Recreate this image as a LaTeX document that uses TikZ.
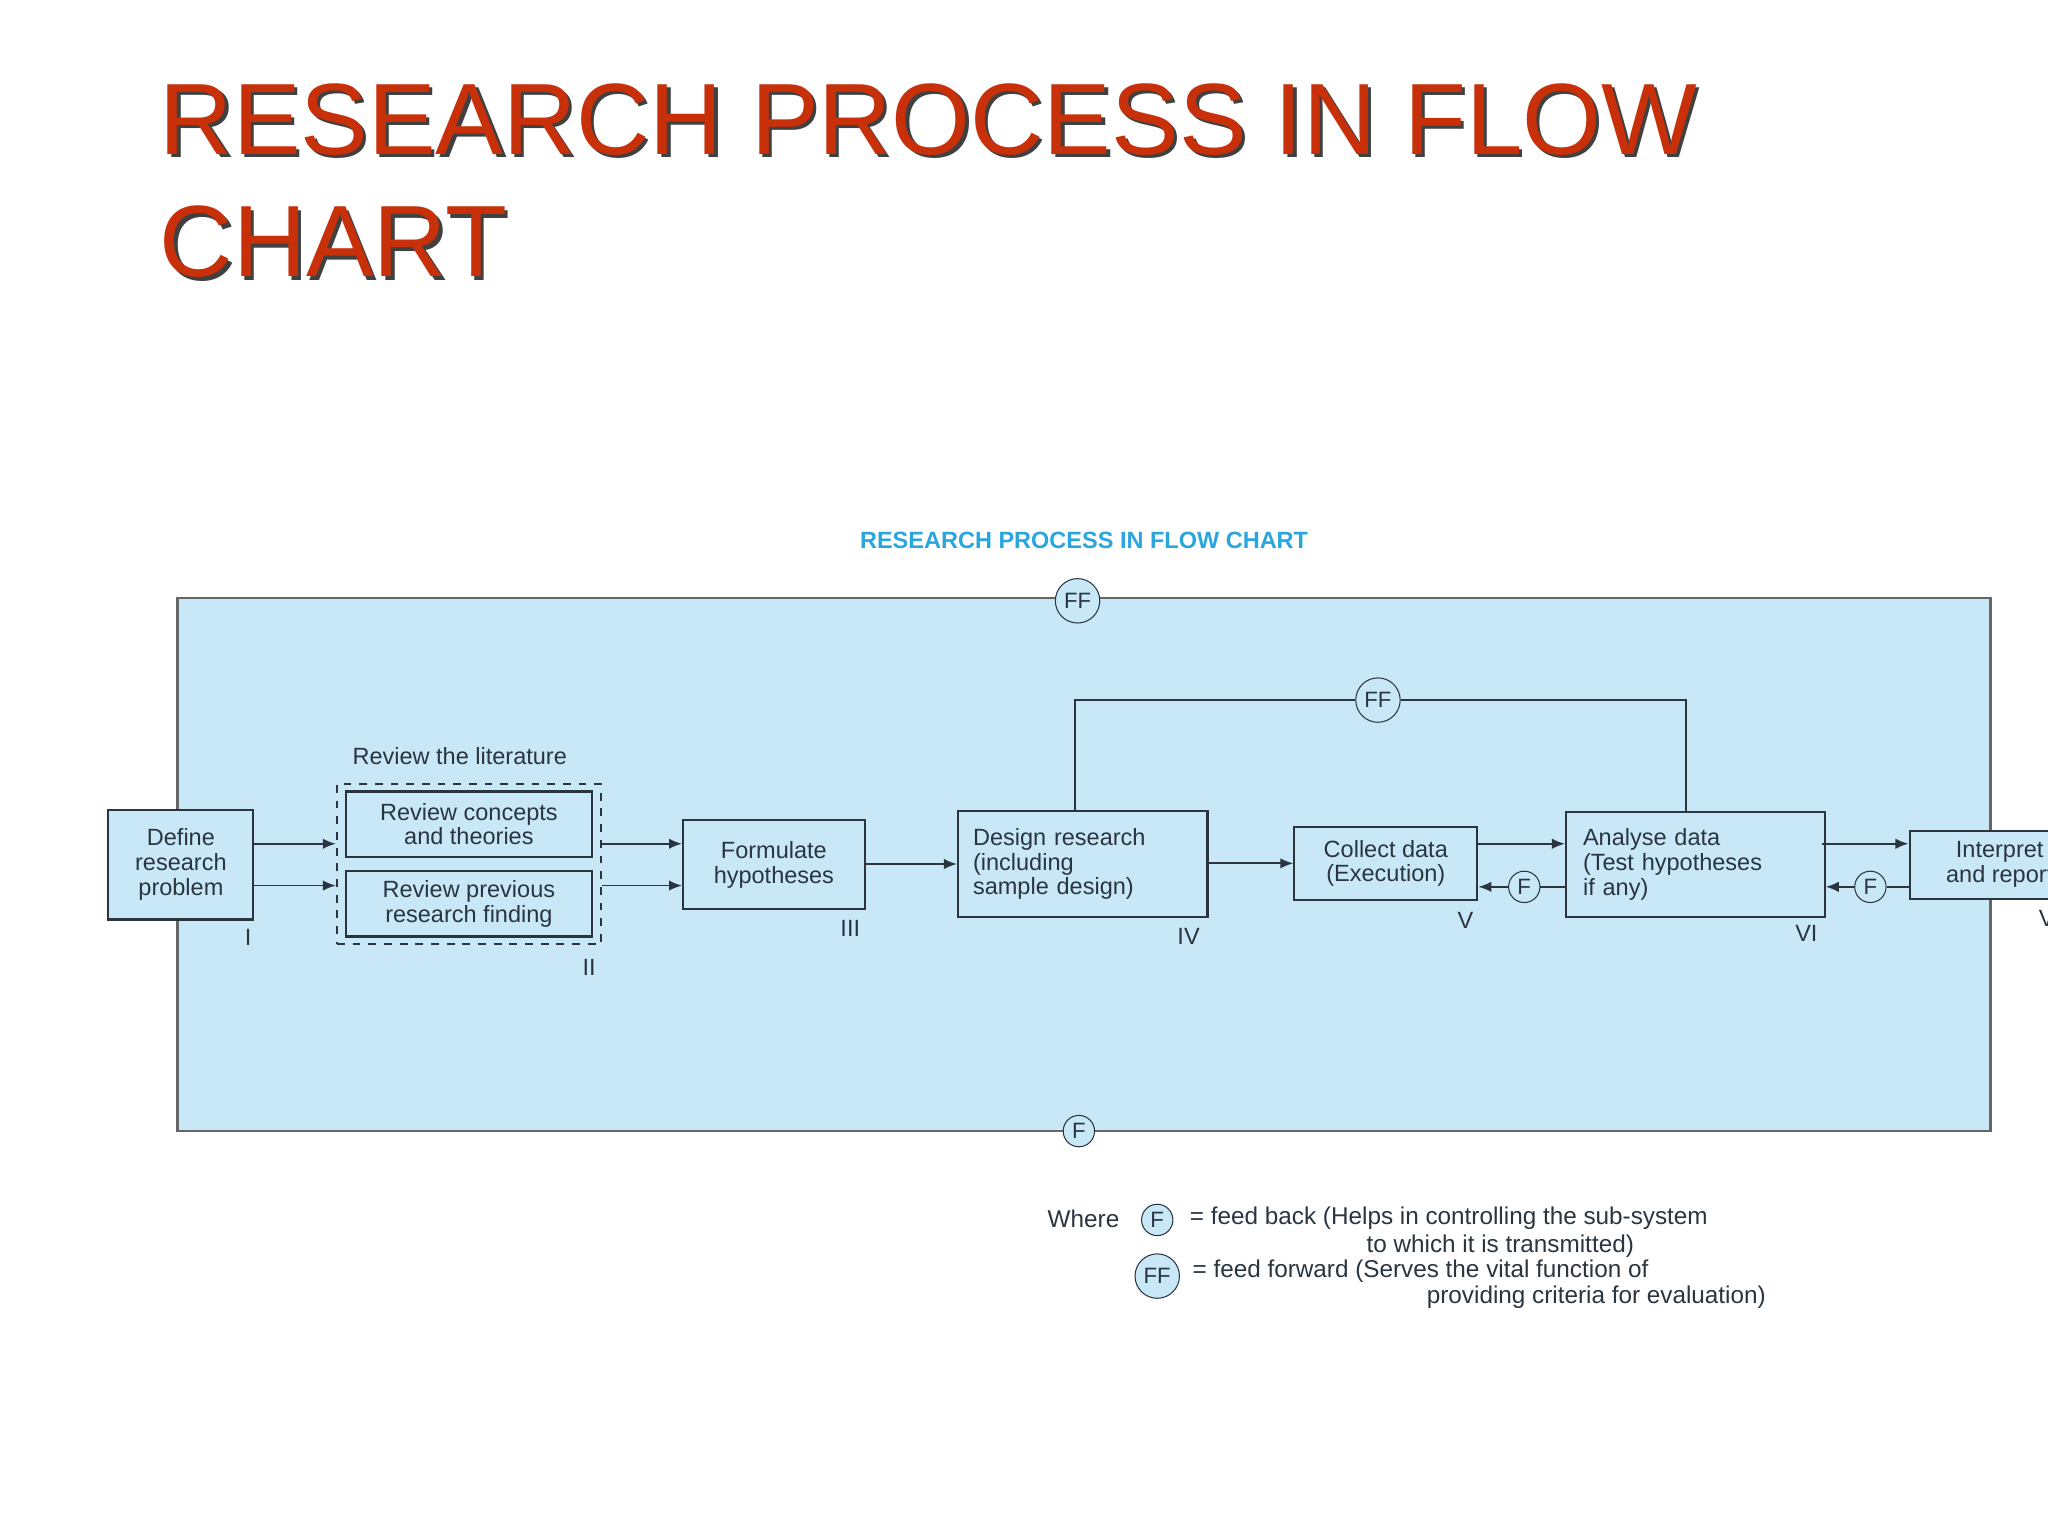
\documentclass[tikz,border=0pt]{standalone}
\usepackage{fontspec}
\setmainfont{Liberation Sans}
\usetikzlibrary{arrows.meta}
\definecolor{ttl}{HTML}{C8300A}
\definecolor{bg}{HTML}{C8E8F8}
\definecolor{sub}{HTML}{2AA6DE}
\definecolor{ink}{HTML}{2A3540}
\tikzset{
 box/.style={draw=ink,line width=0.8pt,fill=bg,inner sep=0pt,align=center,font=\fontsize{9}{9.5}\selectfont,text=ink},
 lab/.style={font=\fontsize{9}{10}\selectfont,text=ink},
 leg/.style={font=\fontsize{9.3}{10}\selectfont,text=ink},
 arr/.style={draw=ink,line width=0.7pt,-{Latex[length=5pt,width=4pt]}},
 ln/.style={draw=ink,line width=0.7pt},
 fc/.style={draw=ink,circle,fill=bg,inner sep=0pt,minimum size=#1,font=\fontsize{8.5}{9}\selectfont,text=ink},
 fc/.default=12pt,
 ttlsty/.style={anchor=base west,font=\fontsize{38.8}{44}\selectfont,inner sep=0pt}
}
\begin{document}
\begin{tikzpicture}[x=0.5pt,y=-0.5pt]
\clip (0,0) rectangle (1568,1176);
\fill[white] (0,0) rectangle (1568,1176);
% title
\node (s1) [ttlsty,text=black!75] at (124.5,120.5) {RESEARCH PROCESS IN FLOW};
\node (t1) [ttlsty,text=ttl] at (122,118) {RESEARCH PROCESS IN FLOW};
\node (s2) [ttlsty,text=black!75] at (124.5,214.5) {CHART};
\node (t2) [ttlsty,text=ttl] at (122,212) {CHART};
\node (sub) [font=\bfseries\fontsize{9}{10}\selectfont,text=sub] at (830,414) {RESEARCH PROCESS IN FLOW CHART};
% frame
\draw[draw=gray!80!black,line width=0.9pt,fill=bg] (136,458) rectangle (1524,866);
\node (ff0) [fc=17pt] at (825,460) {FF};
\node (f0) [fc] at (826,866) {F};
% boxes
\node (def) [box,minimum width=55.5pt,minimum height=42pt] at (138.5,662) {Define\\research\\problem};
\node[lab] at (190,718) {I};
\node (lit) [draw=ink,dashed,line width=0.8pt,minimum width=101pt,minimum height=61.5pt,inner sep=0pt] at (359,661.5) {};
\node[lab] at (352,579) {Review the literature};
\node (rc) [box,minimum width=94pt,minimum height=25pt] at (359,631) {Review concepts\\and theories};
\node (rp) [box,minimum width=94pt,minimum height=25pt] at (359,692) {Review previous\\research finding};
\node[lab] at (451,741) {II};
\node (fh) [box,minimum width=69.5pt,minimum height=34pt] at (592.5,662) {Formulate\\hypotheses};
\node[lab] at (651,711) {III};
\node (dr) [box,minimum width=95.5pt,minimum height=40.5pt,align=left,text width=84pt] at (829,661.5) {Design research\\(including\\sample design)};
\node[lab] at (910,717) {IV};
\node (cd) [box,minimum width=70pt,minimum height=28pt] at (1061,661) {Collect data\\(Execution)};
\node[lab] at (1122,705) {V};
\node (ad) [box,minimum width=99pt,minimum height=40pt,align=left,text width=86pt] at (1298,662) {Analyse data\\(Test hypotheses\\if any)};
\node[lab] at (1383,715) {VI};
\node (ir) [box,minimum width=69pt,minimum height=26pt] at (1531,662) {Interpret\\and report};
\node[lab] at (1572,703) {VII};
% arrows
\coordinate (a1) at (194,646); \coordinate (a2) at (194,678);
\draw[arr] (a1) -- (lit.west |- a1);
\draw[arr] (a2) -- (lit.west |- a2);
\draw[arr] (lit.east |- a1) -- (fh.west |- a1);
\draw[arr] (lit.east |- a2) -- (fh.west |- a2);
\draw[arr] (fh.east |- dr.west) -- (dr.west);
\draw[arr] (dr.east |- cd.west) -- (cd.west);
\coordinate (b1) at (1131,646);
\draw[arr] (b1) -- (ad.west |- b1);
\coordinate (b2) at (1395,646);
\draw[arr] (b2) -- (ir.west |- b2);
\node (f1) [fc] at (1167,679) {F};
\draw[ln] (ad.west |- f1) -- (f1);
\draw[arr] (f1) -- (cd.east |- f1);
\node (f2) [fc] at (1432,679) {F};
\draw[ln] (ir.west |- f2) -- (f2);
\draw[arr] (f2) -- (ad.east |- f2);
\node (ff1) [fc=17pt] at (1055,536) {FF};
\coordinate (u1) at (823,536); \coordinate (u2) at (1291,536);
\draw[ln] (dr.north -| u1) -- (u1) -- (ff1.west);
\draw[ln] (ff1.east) -- (u2) -- (ad.north -| u2);
% legend
\node[leg,anchor=east] at (864,933) {Where};
\node (lf) [fc] at (886,934) {F};
\node[leg,anchor=west] at (904,933) {= feed back (Helps in controlling the sub-system};
\node[leg,anchor=east] at (1258,954) {to which it is transmitted)};
\node (lff) [fc=17pt] at (886,977) {FF};
\node[leg,anchor=west] at (906,973) {= feed forward (Serves the vital function of};
\node[leg,anchor=east] at (1359,993) {providing criteria for evaluation)};
\end{tikzpicture}
\end{document}
